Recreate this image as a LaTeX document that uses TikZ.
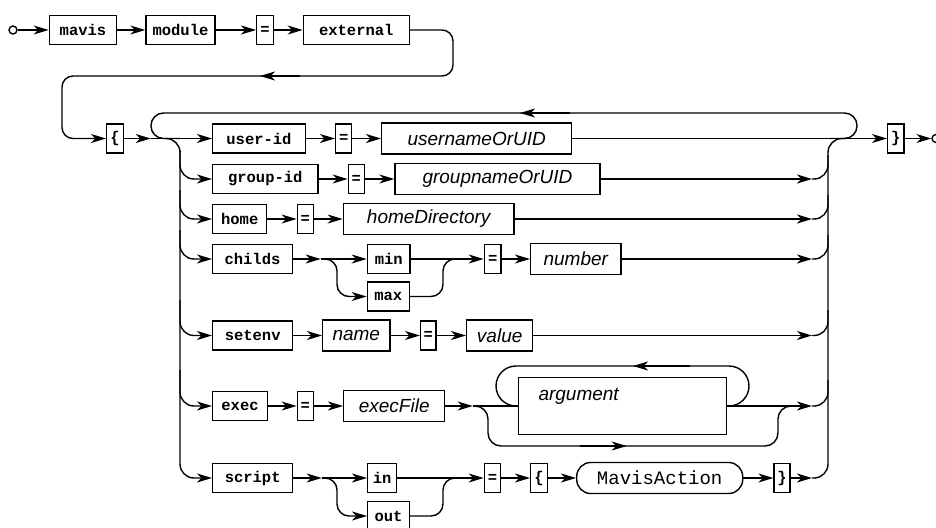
\documentclass[tikz,border=0pt]{standalone}
\usepackage{fontspec}
\newfontfamily\monof{Liberation Mono}
\newfontfamily\sansf{Liberation Sans}
\usetikzlibrary{arrows.meta}
\begin{document}
\begin{tikzpicture}[x=1pt,y=-1pt,
  ln/.style={line width=1.4pt, line join=round},
  arr/.style={ln, -{Stealth[length=15pt,width=9pt,inset=4.5pt]}},
  kw/.style={draw, line width=1.4pt, inner sep=0pt, minimum height=29pt,
    font=\monof\bfseries\fontsize{15.5pt}{18pt}\selectfont},
  itb/.style={draw, line width=1.4pt, inner sep=0pt, minimum height=31pt,
    font=\sansf\itshape\fontsize{19pt}{22pt}\selectfont},
  mab/.style={draw, line width=1.4pt, inner sep=0pt, minimum height=31pt, rounded corners=14pt,
    font=\monof\fontsize{19pt}{22pt}\selectfont},
  term/.style={circle, draw, line width=1.4pt, inner sep=0pt, minimum size=8pt}]
\fill[white] (0,0) rectangle (936,527);
\useasboundingbox (0,0) rectangle (936,527);

% ---- row 1
\node[term] (start) at (13,30) {};
\node[kw, minimum width=67.4pt] (mavis) at (83,30) {mavis};
\node[kw, minimum width=69pt] (module) at (180.5,30) {module};
\node[kw, minimum width=16.6pt] (eq1) at (265,30) {=};
\node[kw, minimum width=106pt] (external) at (356.3,30) {external};
\draw[arr] (start) -- (mavis);
\draw[arr] (mavis) -- (module);
\draw[arr] (module) -- (eq1);
\draw[arr] (eq1) -- (external);

% ---- main row
\node[kw, minimum width=16.6pt] (lbrace) at (115,138.5) {\{};
\coordinate (a1) at (150.7,138.5);
\node[kw, minimum width=92.6pt] (userid) at (259,138.5) {user-id};
\node[kw, minimum width=16pt] (eqA) at (343.7,138.5) {=};
\node[itb, minimum width=190pt] (username) at (476.7,138.5) {usernameOrUID};
\node[kw, minimum width=16.3pt] (rbrace) at (895.8,138.5) {\}};
\node[term] (endc) at (936,138.5) {};

\coordinate (w1) at (453,30);
\coordinate (w2) at (453,76);
\coordinate (w3) at (62,76);
\coordinate (w4) at (62,138.5);
\coordinate (ret1) at (300,76);
\coordinate (ret2) at (260,76);
\draw[arr, rounded corners=11pt] (external.east) -- (w1) -- (w2) -- (w3) -- (w4) -- (lbrace.west);
\draw[arr] (ret1) -- (ret2);

\draw[arr] (lbrace) -- (a1);
\draw[arr] (a1) -- (userid.west);
\draw[arr] (userid) -- (eqA);
\draw[arr] (eqA) -- (username);
\draw[arr] (username.east) -- (rbrace.west);
\draw[arr] (rbrace) -- (endc);

% top loop
\coordinate (L1) at (830,138.5);
\coordinate (L2) at (857,138.5);
\coordinate (L3) at (857,113);
\coordinate (L4) at (151,113);
\coordinate (L5) at (151,138.5);
\coordinate (L6) at (180,138.5);
\coordinate (Lt1) at (570,113);
\coordinate (Lt2) at (520,113);
\draw[ln, rounded corners=12.5pt] (L1) -- (L2) -- (L3) -- (L4) -- (L5) -- (L6);
\draw[arr] (Lt1) -- (Lt2);

% ---- other rows
\node[kw, minimum width=105.3pt] (groupid) at (265.3,179) {group-id};
\node[kw, minimum width=16pt] (eqB) at (356.3,179) {=};
\node[itb, minimum width=205pt] (groupname) at (497.5,179) {groupnameOrUID};

\node[kw, minimum width=54pt] (home) at (239.7,219) {home};
\node[kw, minimum width=16pt] (eqC) at (305.3,219) {=};
\node[itb, minimum width=170.7pt] (homedir) at (428.7,219) {homeDirectory};

\node[kw, minimum width=79.6pt] (childs) at (252.5,259) {childs};
\coordinate (jD) at (320.7,259);
\node[kw, minimum width=42.7pt] (min) at (388.7,259) {min};
\node[kw, minimum width=42pt] (max) at (388.3,296.5) {max};
\node[kw, minimum width=16.7pt] (eqD) at (492.7,259) {=};
\node[itb, minimum width=90.3pt] (number) at (575.8,259) {number};

\node[kw, minimum width=80pt] (setenv) at (252.7,335.5) {setenv};
\node[itb, minimum width=67.3pt] (name) at (356.3,335.5) {name};
\node[kw, minimum width=15.3pt] (eqE) at (428.3,335.5) {=};
\node[itb, minimum width=66pt] (value) at (499.7,335.5) {value};

\node[kw, minimum width=54.6pt] (exec) at (240,406) {exec};
\node[kw, minimum width=16pt] (eqF) at (305.3,406) {=};
\node[itb, minimum width=101pt] (execfile) at (394.2,406) {execFile};
\coordinate (jF) at (472.7,406);
\node[draw, line width=1.4pt, inner sep=0pt, minimum width=208.4pt, minimum height=56.6pt] (arg) at (622.5,406) {};
\node[anchor=base west, inner sep=0pt, font=\sansf\itshape\fontsize{19pt}{22pt}\selectfont] (argtext) at (538.3,400.5) {argument};

\node[kw, minimum width=80pt] (script) at (252.7,478) {script};
\coordinate (jG) at (321.7,478);
\node[kw, minimum width=29pt] (nin) at (382.2,478) {in};
\node[kw, minimum width=41.6pt] (nout) at (388.5,516) {out};
\node[kw, minimum width=16.4pt] (eqG) at (492.5,478) {=};
\node[kw, minimum width=16.6pt] (lb2) at (539,478) {\{};
\node[mab, minimum width=166pt] (action) at (659.7,478) {MavisAction};
\node[kw, minimum width=16pt] (rb2) at (782,478) {\}};

% ---- left trunk
\coordinate (T0) at (165,138.5);
\coordinate (T1) at (180,138.5);
\coordinate (T2) at (180,478);
\draw[arr, rounded corners=14pt] (T0) -- (T1) -- (T2) -- (script.west);
\foreach \b/\t in {groupid/150, home/190, childs/230, setenv/300, exec/370}
  \draw[arr, rounded corners=14pt] (180,\t) |- (\b.west);

% ---- right trunk
\coordinate (rB) at (812,179);
\coordinate (rC) at (812,219);
\coordinate (rD) at (812,259);
\coordinate (rE) at (812,335.5);
\coordinate (rF) at (812,406);
\coordinate (rG) at (812,478);
\coordinate (R1) at (828,478);
\coordinate (R2) at (828,138.5);
\coordinate (R3) at (846,138.5);
\draw[ln, rounded corners=14pt] (rG) -- (R1) -- (R2) -- (R3);
\foreach \r/\t in {rB/155, rC/195, rD/235, rE/310, rF/380}
  \draw[ln, rounded corners=14pt] (\r) -| (828,\t);

% row B, C
\draw[arr] (groupid) -- (eqB);
\draw[arr] (eqB) -- (groupname);
\draw[arr] (groupname.east) -- (rB);
\draw[arr] (home) -- (eqC);
\draw[arr] (eqC) -- (homedir);
\draw[arr] (homedir.east) -- (rC);

% row D
\coordinate (dA) at (322,259);
\coordinate (dB) at (337,259);
\coordinate (dC) at (337,296.5);
\coordinate (dD) at (443,296.5);
\coordinate (dE) at (443,259);
\coordinate (dF) at (456,259);
\draw[arr] (childs) -- (jD);
\draw[arr] (jD) -- (min);
\draw[arr, rounded corners=12pt] (dA) -- (dB) -- (dC) -- (max.west);
\draw[ln, rounded corners=12pt] (max.east) -- (dD) -- (dE) -- (dF);
\draw[arr] (min.east) -- (eqD.west);
\draw[arr] (eqD) -- (number);
\draw[arr] (number.east) -- (rD);

% row E
\draw[arr] (setenv) -- (name);
\draw[arr] (name) -- (eqE);
\draw[arr] (eqE) -- (value);
\draw[arr] (value.east) -- (rE);

% row F
\draw[arr] (exec) -- (eqF);
\draw[arr] (eqF) -- (execfile);
\draw[arr] (execfile) -- (jF);
\draw[ln] (jF) -- (arg.west);
\draw[arr] (arg.east) -- (rF);
\coordinate (fA) at (749,406);
\coordinate (fB) at (749,366);
\coordinate (fC) at (496,366);
\coordinate (fD) at (496,406);
\draw[ln, rounded corners=20pt] (arg.east) -- (fA) -- (fB) -- (fC) -- (fD) -- (arg.west);
\coordinate (ft1) at (690,366);
\coordinate (ft2) at (633,366);
\draw[arr] (ft1) -- (ft2);
\coordinate (gA) at (474,406);
\coordinate (gB) at (488,406);
\coordinate (gC) at (488,446);
\coordinate (gD) at (778,446);
\coordinate (gE) at (778,406);
\coordinate (gF) at (792,406);
\draw[ln, rounded corners=13pt] (gA) -- (gB) -- (gC) -- (gD) -- (gE) -- (gF);
\coordinate (gb1) at (580,446);
\coordinate (gb2) at (626.7,446);
\draw[arr] (gb1) -- (gb2);

% row G
\coordinate (sA) at (322,478);
\coordinate (sB) at (337,478);
\coordinate (sC) at (337,516);
\coordinate (sD) at (443,516);
\coordinate (sE) at (443,478);
\coordinate (sF) at (456,478);
\draw[arr] (script) -- (jG);
\draw[arr] (jG) -- (nin);
\draw[arr, rounded corners=12pt] (sA) -- (sB) -- (sC) -- (nout.west);
\draw[ln, rounded corners=12pt] (nout.east) -- (sD) -- (sE) -- (sF);
\draw[arr] (nin.east) -- (eqG.west);
\draw[arr] (eqG) -- (lb2);
\draw[arr] (lb2) -- (action);
\draw[arr] (action) -- (rb2);
\draw[arr] (rb2.east) -- (rG);
\end{tikzpicture}
\end{document}
